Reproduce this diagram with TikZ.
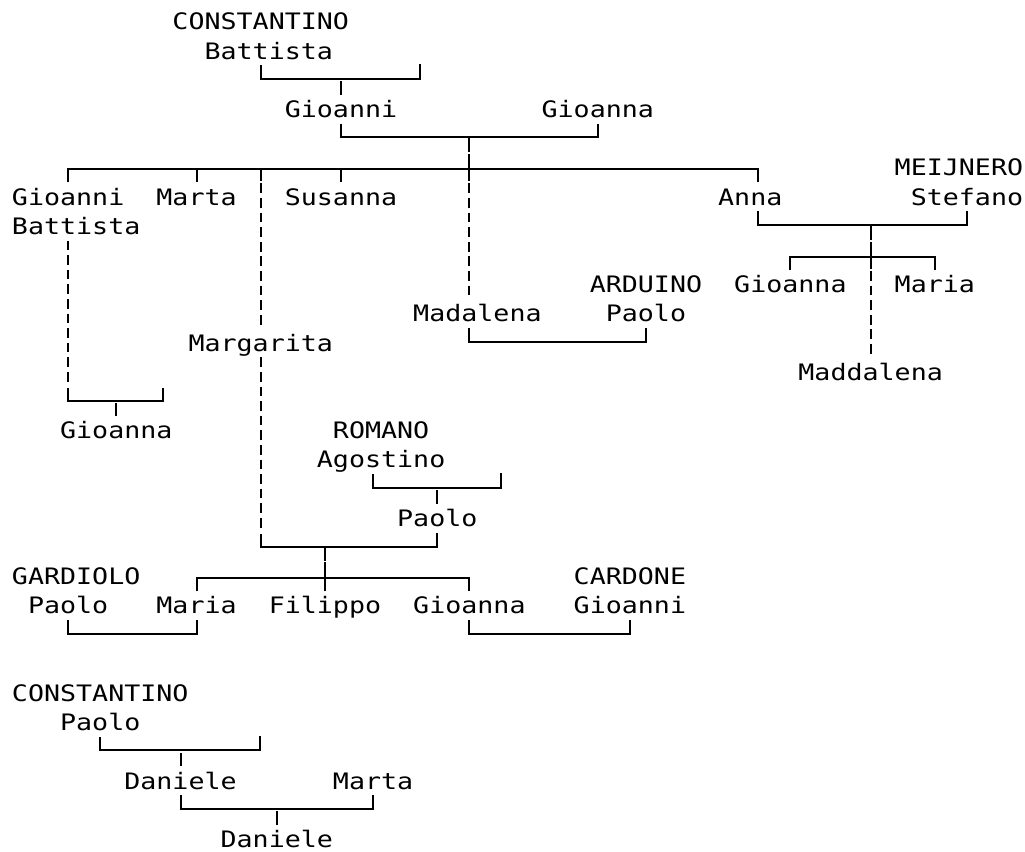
\documentclass[tikz,border=0pt]{standalone}
\usepackage{fontspec}
\newfontfamily\gmono[FakeStretch=1.176]{DejaVu Sans Mono}
\begin{document}
\begin{tikzpicture}[x=12.0375pt,y=21.9pt,line width=1.5pt,
    nm/.style={anchor=west,inner sep=0pt,text height=16.27pt,text depth=3.87pt,
      font=\gmono\fontsize{17pt}{20pt}\selectfont},
    gen/.style={dash pattern=on 7.3pt off 3.65pt}]
  \def\arm{0.46}
  \def\hc{6.02pt}
  \useasboundingbox (-0.685,0.743) rectangle (63.18,-28.43);

  % 第一代
  \node[nm] (cst1) at (10,0) {CONSTANTINO};
  \node[nm] (bat) at (12,-1) {Battista};
  \node[nm] (gni) at (17,-3) {Gioanni};
  \node[nm] (gna) at (33,-3) {Gioanna};
  \coordinate (batS) at ([xshift=-\hc]bat.south);
  \coordinate (sp1) at (25.5,-1.46);
  \draw (batS) -- ++(0,-\arm) -| (sp1);
  \draw (gni.north) -- ++(0,\arm);
  \draw (gni.south) -- ++(0,-\arm) -| (gna.south);

  % 子女
  \node[nm] (gb) at (0,-6) {Gioanni};
  \node[nm] (gbb) at (0,-7) {Battista};
  \node[nm] (mar) at (9,-6) {Marta};
  \node[nm] (sus) at (17,-6) {Susanna};
  \node[nm] (mad) at (25,-10) {Madalena};
  \node[nm] (ann) at (44,-6) {Anna};
  \node[nm] (mgr) at (11,-11) {Margarita};
  \coordinate (annN) at ([xshift=\hc]ann.north);
  \coordinate (madN) at ([xshift=-\hc]mad.north);
  \coordinate (madS) at ([xshift=-\hc]mad.south);
  \draw (gb.north) -- ++(0,\arm) -| (annN);
  \draw (mar.north) -- ++(0,\arm);
  \draw (sus.north) -- ++(0,\arm);
  \draw (mgr.north |- 0,-5) -- ++(0,-\arm);
  \draw[gen] (mgr.north |- 0,-5.54) -- (mgr.north);
  \draw (madN |- 0,-4) -- ++(0,-\arm);
  \draw (madN |- 0,-4.54) -- ++(0,-0.92);
  \draw[gen] (madN |- 0,-5.54) -- (madN);

  \node[nm] (ard) at (36,-9) {ARDUINO};
  \node[nm] (pao1) at (37,-10) {Paolo};
  \draw (madS) -- ++(0,-\arm) -| (pao1.south);

  \node[nm] (mei) at (55,-5) {MEIJNERO};
  \node[nm] (ste) at (56,-6) {Stefano};
  \node[nm] (gna2) at (45,-9) {Gioanna};
  \node[nm] (mar2) at (55,-9) {Maria};
  \node[nm] (mdd) at (49,-12) {Maddalena};
  \coordinate (annS) at ([xshift=\hc]ann.south);
  \draw (annS) -- ++(0,-\arm) -| (ste.south);
  \draw (gna2.north) -- ++(0,\arm) -| (mar2.north);
  \draw (mdd.north |- 0,-7) -- ++(0,-\arm);
  \draw (mdd.north |- 0,-7.54) -- ++(0,-0.92);
  \draw[gen] (mdd.north |- 0,-8.54) -- (mdd.north);

  \node[nm] (gna3) at (3,-14) {Gioanna};
  \coordinate (gbbS) at ([xshift=-\hc]gbb.south);
  \coordinate (sp2) at (9.5,-12.54);
  \draw[gen] (gbbS) -- (gbbS |- 0,-12.46);
  \draw (gbbS |- sp2) -- ++(0,-\arm) -| (sp2);
  \draw (gna3.north) -- ++(0,\arm);

  % Margarita
  \node[nm] (rom) at (20,-14) {ROMANO};
  \node[nm] (ago) at (19,-15) {Agostino};
  \node[nm] (pao2) at (24,-17) {Paolo};
  \coordinate (agoS) at ([xshift=-\hc]ago.south);
  \coordinate (sp3) at (30.5,-15.46);
  \draw (agoS) -- ++(0,-\arm) -| (sp3);
  \draw (pao2.north) -- ++(0,\arm);
  \draw[gen] (mgr.south) -- (mgr.south |- 0,-17.46);
  \draw (mgr.south |- 0,-17.54) -- ++(0,-\arm) -| (pao2.south);

  \node[nm] (gar) at (0,-19) {GARDIOLO};
  \node[nm] (pao3) at (1,-20) {Paolo};
  \node[nm] (mar3) at (9,-20) {Maria};
  \node[nm] (fil) at (16,-20) {Filippo};
  \node[nm] (gna4) at (25,-20) {Gioanna};
  \node[nm] (car) at (35,-19) {CARDONE};
  \node[nm] (gni2) at (35,-20) {Gioanni};
  \draw (fil.north |- 0,-18) -- ++(0,-\arm);
  \draw (mar3.north) -- ++(0,\arm) -| (gna4.north);
  \draw (fil.north) -- ++(0,1);
  \draw (pao3.south) -- ++(0,-\arm) -| (mar3.south);
  \draw (gna4.south) -- ++(0,-\arm) -| (gni2.south);

  % Daniele
  \node[nm] (cst2) at (0,-23) {CONSTANTINO};
  \node[nm] (pao4) at (3,-24) {Paolo};
  \node[nm] (dan1) at (7,-26) {Daniele};
  \node[nm] (mrt) at (20,-26) {Marta};
  \node[nm] (dan2) at (13,-28) {Daniele};
  \coordinate (sp4) at (15.5,-24.46);
  \draw (pao4.south) -- ++(0,-\arm) -| (sp4);
  \draw (dan1.north) -- ++(0,\arm);
  \draw (dan1.south) -- ++(0,-\arm) -| (mrt.south);
  \draw (dan2.north) -- ++(0,\arm);
\end{tikzpicture}
\end{document}
